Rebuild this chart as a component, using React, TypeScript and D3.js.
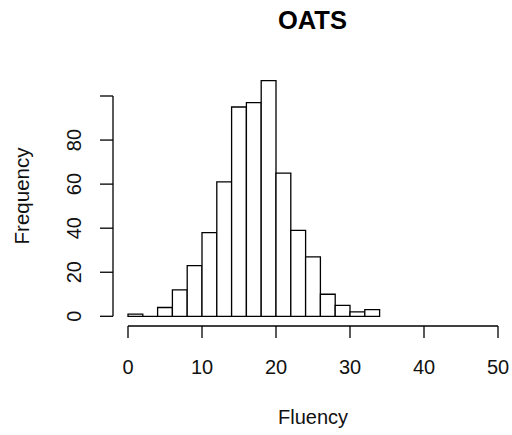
import React from "react";
import * as d3 from "d3";

// Histogram of fluency scores: bin edges (width 2) and counts per bin
const binStarts = [0, 2, 4, 6, 8, 10, 12, 14, 16, 18, 20, 22, 24, 26, 28, 30, 32];
const binWidth = 2;
const counts = [1, 0, 4, 12, 23, 38, 61, 95, 97, 107, 65, 39, 27, 10, 5, 2, 3];
const xTicks = [0, 10, 20, 30, 40, 50];
const yTicks = [0, 20, 40, 60, 80, 100];
const yTickLabels = ["0", "20", "40", "60", "80", ""];

const W = 512;
const H = 435;
const FONT = "'Liberation Sans', Arial, sans-serif";

export default function App() {
  const x = d3.scaleLinear().domain([0, 50]).range([128, 498]);
  const y = d3.scaleLinear().domain([0, 100]).range([316.3, 96]);
  const axisY = 326;
  const axisX = 113;

  // closed outline per bin so that empty bins still show as a line on the baseline
  const barPath = (b: number, c: number) => {
    const p = d3.path();
    p.moveTo(x(b), y(0));
    p.lineTo(x(b), y(c));
    p.lineTo(x(b + binWidth), y(c));
    p.lineTo(x(b + binWidth), y(0));
    p.closePath();
    return p.toString();
  };

  return (
    <svg
      width={W}
      height={H}
      style={{ position: "absolute", left: 0, top: 0, background: "#fff" }}
      fontFamily={FONT}
    >
      <text x={312.5} y={29} textAnchor="middle" fontSize={25.5} fontWeight="bold" fill="#000">
        OATS
      </text>

      {/* bars */}
      <g fill="#fff" stroke="#000" strokeWidth={1.3}>
        {binStarts.map((b, i) => (
          <path key={b} d={barPath(b, counts[i])} />
        ))}
      </g>

      {/* x axis */}
      <g stroke="#000" strokeWidth={1.3} fill="none">
        <line x1={x(xTicks[0])} x2={x(xTicks[xTicks.length - 1])} y1={axisY} y2={axisY} />
        {xTicks.map((t) => (
          <line key={t} x1={x(t)} x2={x(t)} y1={axisY} y2={axisY + 12} />
        ))}
      </g>
      {xTicks.map((t) => (
        <text key={t} x={x(t)} y={374} textAnchor="middle" fontSize={20} fill="#111">
          {t}
        </text>
      ))}

      {/* y axis */}
      <g stroke="#000" strokeWidth={1.3} fill="none">
        <line x1={axisX} x2={axisX} y1={y(yTicks[0])} y2={y(yTicks[yTicks.length - 1])} />
        {yTicks.map((t) => (
          <line key={t} x1={axisX - 13} x2={axisX} y1={y(t)} y2={y(t)} />
        ))}
      </g>
      {yTicks.map((t, i) => (
        <text
          key={t}
          transform={`translate(81,${y(t)}) rotate(-90)`}
          textAnchor="middle"
          fontSize={20}
          fill="#111"
        >
          {yTickLabels[i]}
        </text>
      ))}

      <text x={313} y={424} textAnchor="middle" fontSize={20} fill="#111">
        Fluency
      </text>
      <text
        transform={`translate(29,196) rotate(-90)`}
        textAnchor="middle"
        fontSize={20.5}
        fill="#111"
      >
        Frequency
      </text>
    </svg>
  );
}
